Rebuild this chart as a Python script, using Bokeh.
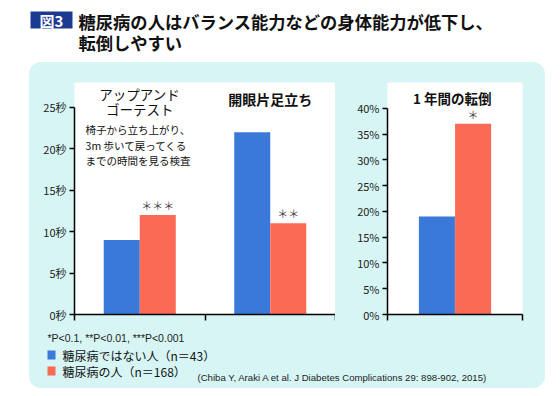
from bokeh.plotting import figure
from bokeh.models import Range1d, FixedTicker, Label, ColumnDataSource, BoxAnnotation
from bokeh.layouts import column, row
from bokeh.embed import file_html
from bokeh.resources import INLINE
from bokeh.core.properties import value
from bokeh.transform import dodge

# ---------------- data ----------------
title_lines = ["糖尿病の人はバランス能力などの身体能力が低下し、", "転倒しやすい"]
badge = "図3"
groups = ["アップアンド\nゴーテスト", "開眼片足立ち"]
group_note = ["椅子から立ち上がり、", "3m 歩いて戻ってくる", "までの時間を見る検査"]
no_dm_sec = [9, 22]
dm_sec = [12, 11]
sig_sec = ["＊＊＊", "＊＊"]
fall_group = ["1 年間の転倒"]
no_dm_fall = [19]
dm_fall = [37]
sig_fall = ["＊"]
sec_ticks = [0, 5, 10, 15, 20, 25]
sec_labels = ["0秒", "5秒", "10秒", "15秒", "20秒", "25秒"]
pct_ticks = [0, 5, 10, 15, 20, 25, 30, 35, 40]
pct_labels = ["0%", "5%", "10%", "15%", "20%", "25%", "30%", "35%", "40%"]
series_names = ["糖尿病ではない人（n＝43）", "糖尿病の人（n＝168）"]
footnote = "*P<0.1, **P<0.01, ***P<0.001"
citation = "(Chiba Y, Araki A et al. J Diabetes Complications 29: 898-902, 2015)"

BLUE = "#3a78d9"
RED = "#fb6a55"
CYAN = "#d7f5f5"
NAVY = "#1c3a92"
JP = "Noto Sans CJK JP"


def base_fig(**kw):
    f = figure(output_backend="svg", toolbar_location=None, **kw)
    f.grid.visible = False
    return f


def style_axes(f, yticks, ylabels, xticks, ybound):
    f.yaxis.ticker = FixedTicker(ticks=yticks)
    f.yaxis.major_label_overrides = dict(zip(yticks, ylabels))
    f.yaxis.major_tick_out = 5
    f.yaxis.major_tick_in = 0
    f.yaxis.minor_tick_out = 0
    f.yaxis.minor_tick_in = 0
    f.yaxis.major_label_text_font = JP
    f.yaxis.major_label_text_font_size = "11px"
    f.yaxis.major_label_text_color = "#222222"
    f.yaxis.major_label_standoff = 3
    f.yaxis.axis_line_width = 1.5
    f.yaxis.major_tick_line_width = 1.5
    f.yaxis.bounds = ybound
    f.xaxis.ticker = FixedTicker(ticks=xticks)
    f.xaxis.major_label_overrides = {t: "" for t in xticks}
    f.xaxis.major_label_text_font_size = "0px"
    f.xaxis.major_label_standoff = 0
    f.xaxis.major_tick_out = 6
    f.xaxis.major_tick_in = 0
    f.xaxis.minor_tick_out = 0
    f.xaxis.minor_tick_in = 0
    f.xaxis.axis_line_width = 1.5
    f.xaxis.major_tick_line_width = 1.5


# ---------------- title ----------------
pt = base_fig(width=544, height=54, x_range=Range1d(0, 544), y_range=Range1d(54, 0),
              min_border=0, outline_line_color=None, background_fill_color="white",
              border_fill_color="white")
pt.axis.visible = False
pt.add_layout(BoxAnnotation(left=22, right=64, top=3, bottom=20, fill_color=NAVY,
                            fill_alpha=1, line_color=None))
pt.add_layout(Label(x=43, y=12, text=badge, text_color="white", text_font=JP,
                    text_font_style="bold", text_font_size="15px", text_align="center",
                    text_baseline="middle"))
for i, t in enumerate(title_lines):
    pt.add_layout(Label(x=70, y=13 + 21 * i, text=t, text_color="#111111", text_font=JP,
                        text_font_style="bold", text_font_size="17.3px", text_align="left",
                        text_baseline="middle"))

# ---------------- left panel (seconds) ----------------
src1 = ColumnDataSource(dict(x=[i + 0.5 for i in range(len(groups))], no_dm=no_dm_sec,
                             dm=dm_sec, sig=sig_sec))
p1 = base_fig(width=306, height=264, x_range=Range1d(0, 2), y_range=Range1d(0, 28.0),
              min_border_left=45, min_border_right=0, min_border_top=20, min_border_bottom=12,
              outline_line_color=None, background_fill_color="white", border_fill_alpha=0)
p1.vbar(x=dodge("x", -0.138, range=p1.x_range), top="no_dm", width=0.276, source=src1,
        fill_color=BLUE, line_color=None)
p1.vbar(x=dodge("x", 0.138, range=p1.x_range), top="dm", width=0.276, source=src1,
        fill_color=RED, line_color=None)
p1.text(x=dodge("x", 0.138, range=p1.x_range), y="dm", text="sig", source=src1,
        text_align="center", text_baseline="bottom", y_offset=-2,
        text_font=value(JP), text_font_size="11px", text_color="#444444")
style_axes(p1, sec_ticks, sec_labels, [0, 1, 2], (0, 25))
p1.add_layout(Label(x=0.5, y=26.65, text=groups[0].split("\n")[0], text_font=JP,
                    text_font_size="13.5px", text_align="center", text_baseline="middle",
                    text_color="#111111"))
p1.add_layout(Label(x=0.5, y=24.85, text=groups[0].split("\n")[1], text_font=JP,
                    text_font_size="13.5px", text_align="center", text_baseline="middle",
                    text_color="#111111"))
p1.add_layout(Label(x=1.5, y=26.05, text=groups[1], text_font=JP,
                    text_font_size="14px", text_font_style="bold", text_align="center",
                    text_baseline="middle", text_color="#111111"))
for i, t in enumerate(group_note):
    p1.add_layout(Label(x=0.085, y=22.3 - 1.85 * i, text=t, text_font=JP,
                        text_font_size="10.5px", text_align="left", text_baseline="middle",
                        text_color="#111111"))

# ---------------- right panel (falls %) ----------------
src2 = ColumnDataSource(dict(x=[i + 0.5 for i in range(len(fall_group))], no_dm=no_dm_fall,
                             dm=dm_fall, sig=sig_fall))
p2 = base_fig(width=210, height=264, x_range=Range1d(0, 1), y_range=Range1d(0, 45.0),
              min_border_left=52, min_border_right=23, min_border_top=20, min_border_bottom=12,
              outline_line_color=None, background_fill_color="white", border_fill_alpha=0)
p2.vbar(x=dodge("x", -0.134, range=p2.x_range), top="no_dm", width=0.267, source=src2,
        fill_color=BLUE, line_color=None)
p2.vbar(x=dodge("x", 0.134, range=p2.x_range), top="dm", width=0.267, source=src2,
        fill_color=RED, line_color=None)
p2.text(x=dodge("x", 0.134, range=p2.x_range), y="dm", text="sig", source=src2,
        text_align="center", text_baseline="bottom", y_offset=-2,
        text_font=value(JP), text_font_size="11px", text_color="#444444")
style_axes(p2, pct_ticks, pct_labels, [0, 1], (0, 40))
p2.add_layout(Label(x=0.48, y=41.9, text=fall_group[0], text_font=JP,
                    text_font_size="13.5px", text_font_style="bold", text_align="center",
                    text_baseline="middle", text_color="#111111"))

# ---------------- bottom notes & legend ----------------
pb = base_fig(width=516, height=62, x_range=Range1d(0, 516), y_range=Range1d(62, 0),
              min_border=0, outline_line_color=None, background_fill_alpha=0,
              border_fill_alpha=0)
pb.axis.visible = False
pb.add_layout(Label(x=18, y=11, text=footnote, text_font="Liberation Sans",
                    text_font_size="10.5px", text_baseline="middle", text_color="#222222"))
for i, (name, col) in enumerate(zip(series_names, [BLUE, RED])):
    y0 = 24 + 16 * i
    pb.add_layout(BoxAnnotation(left=18, right=26, top=y0, bottom=y0 + 9, fill_color=col,
                                fill_alpha=1, line_color=None))
    pb.add_layout(Label(x=33, y=y0 + 4.5, text=name, text_font=JP,
                        text_font_size="12px", text_baseline="middle", text_color="#111111"))
pb.add_layout(Label(x=168, y=51, text=citation, text_font="Liberation Sans",
                    text_font_size="9.6px", text_baseline="middle", text_color="#222222"))

box = column(row(p1, p2), pb, margin=(0, 0, 0, 21),
             styles={"background-color": CYAN, "border-radius": "12px"})
layout = column(pt, box, margin=(8, 0, 0, 8))

open("out.html", "w").write(file_html(layout, INLINE))
